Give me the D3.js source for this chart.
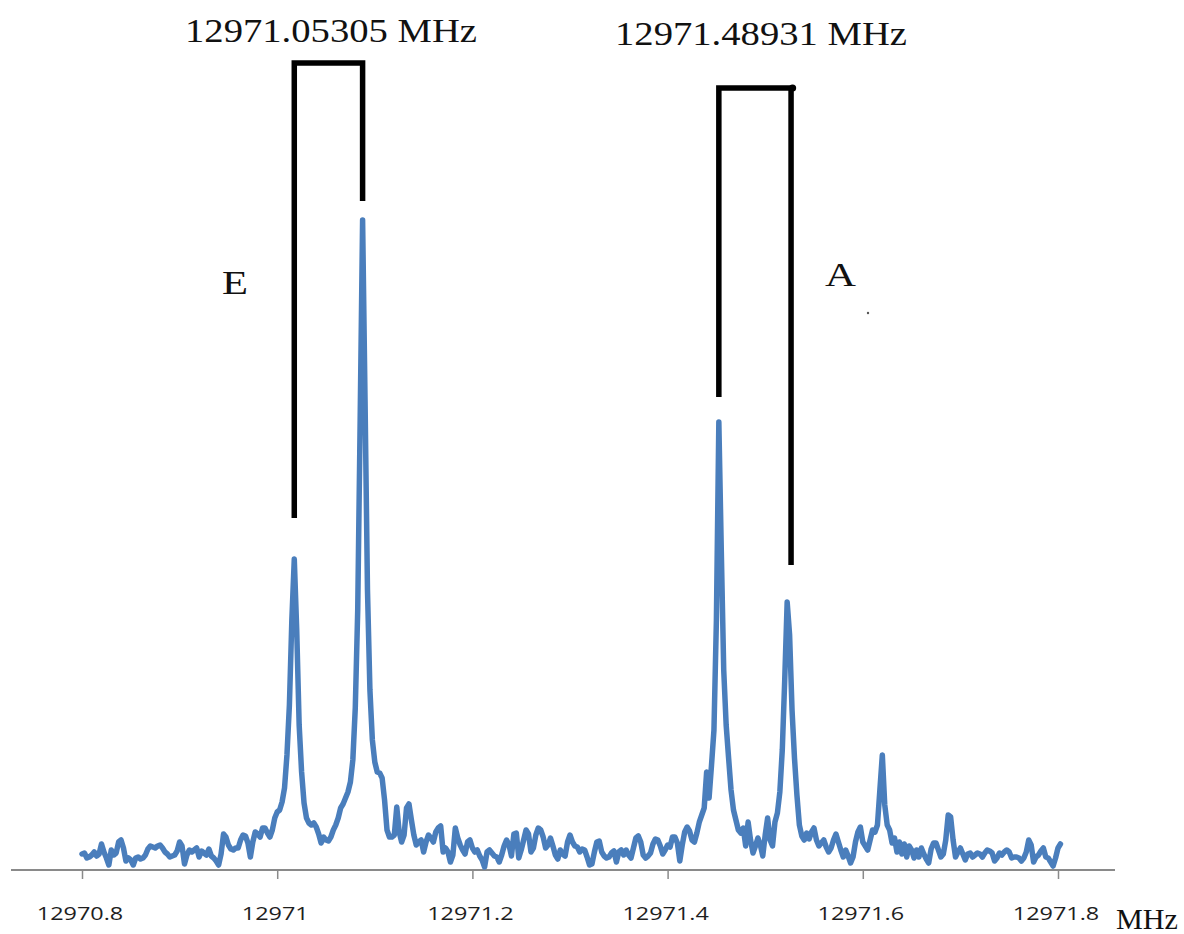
<!DOCTYPE html>
<html>
<head>
<meta charset="utf-8">
<script src="https://cdn.jsdelivr.net/npm/d3@7"></script>
<style>
  html, body { margin: 0; padding: 0; background: #ffffff; }
  svg { display: block; }
</style>
</head>
<body>
<svg id="chart" width="1184" height="934"></svg>
<script>
// ---------------- DATA ----------------
// Spectrum sampled every 0.0025 MHz starting at 12970.8 MHz (intensity, arbitrary units)
const freqStart = 12970.8;
const freqStep = 0.0025;
const intensity = [
  16,17,12,13,15,18,14,16,26,18,
  12,5,20,15,17,28,30,22,9,12,
  10,5,12,13,11,12,15,21,24,23,
  22,24,25,22,18,16,13,14,15,19,
  28,24,6,15,20,18,20,22,13,19,
  17,15,21,14,12,9,5,16,36,33,
  25,21,20,22,22,30,35,34,27,13,
  28,38,36,33,42,42,37,33,40,52,
  58,
  60,68,82,115,165,250,311,240,145,98,
  67,52,47,45,47,43,36,27,33,30,
  29,33,40,45,52,62,66,72,78,88,
  110,162,260,450,650,470,280,180,130,108,
  98,97,92,70,40,33,33,35,63,38,
  28,35,62,66,50,35,25,28,30,18,
  28,35,32,28,38,42,44,18,22,18,
  8,15,42,32,25,20,16,28,30,22,
  18,20,
  14,10,3,18,20,17,14,13,8,15,
  24,30,25,14,36,37,12,20,30,40,
  36,18,22,35,42,40,33,22,25,32,
  24,15,11,20,16,14,28,35,28,24,
  23,18,21,20,13,5,6,18,28,29,
  18,14,12,13,17,19,8,18,20,15,
  20,15,12,22,32,34,28,15,12,14,
  17,26,31,30,24,16,20,25,
  23,33,33,27,9,25,38,43,39,30,
  28,37,48,55,62,98,72,105,140,250,
  448,320,200,145,112,80,60,50,40,37,
  42,24,48,30,17,24,32,25,14,35,
  52,30,24,48,57,78,120,190,268,235,
  160,112,75,45,34,30,37,31,38,42,
  30,24,27,30,23,18,22,30,36,28,
  20,13,20,14,7,13,28,38,43,28,
  24,
  20,30,40,38,45,80,115,65,45,40,
  27,32,18,28,16,26,13,24,20,12,
  20,13,22,16,11,7,21,27,27,20,
  13,16,30,55,53,30,13,18,22,16,
  10,16,17,13,15,17,16,13,17,20,
  19,17,9,12,17,15,18,20,18,12,
  13,13,12,9,12,18,30,25,8,13,
  15,19,22,13,12,8,4,12,22,26
];

const tickValues = [12970.8, 12971.0, 12971.2, 12971.4, 12971.6, 12971.8];
const tickLabels = ["12970.8", "12971", "12971.2", "12971.4", "12971.6", "12971.8"];

// Doublet annotations (bracket legs at line frequencies, heights in intensity units)
const bracketNames = ["E", "A"];
const bracketTitles = ["12971.05305 MHz", "12971.48931 MHz"];
const bracketLeftFreq = [12971.0175, 12971.4525];
const bracketRightFreq = [12971.0875, 12971.5265];
const bracketTop = [807, 782];
const bracketLeftBottom = [352, 473];
const bracketRightBottom = [669, 305];

const xUnit = "MHz";

// ---------------- CHART ----------------
const svg = d3.select("#chart");
svg.append("rect").attr("width", 1184).attr("height", 934).attr("fill", "#ffffff");

const x = d3.scaleLinear().domain([12970.8, 12971.8]).range([82, 1058]);
const y = d3.scaleLinear().domain([0, 650]).range([870, 220]);

const points = intensity.map((v, i) => ({ f: freqStart + i * freqStep, v }));

// axis baseline (extends beyond the data range)
svg.append("line")
  .attr("x1", 11).attr("x2", 1115)
  .attr("y1", y(0)).attr("y2", y(0))
  .attr("stroke", "#8a8a8a").attr("stroke-width", 2);

const axis = d3.axisBottom(x)
  .tickValues(tickValues)
  .tickSize(9)
  .tickFormat((d, i) => tickLabels[i]);

const gAxis = svg.append("g")
  .attr("transform", `translate(0,${y(0)})`)
  .call(axis);
gAxis.select(".domain").remove();
gAxis.selectAll(".tick line").attr("stroke", "#8a8a8a").attr("stroke-width", 1.5);
gAxis.selectAll(".tick text")
  .attr("y", 50).attr("dy", 0).attr("x", -2.5)
  .attr("fill", "#1e1e1e")
  .style("font-family", "'Open Sans', 'DejaVu Sans', sans-serif")
  .style("font-size", "18px")
  .style("font-weight", 500)
  .each(function () {
    const w = this.getComputedTextLength();
    d3.select(this).attr("textLength", w * 1.3).attr("lengthAdjust", "spacingAndGlyphs");
  });

// spectrum line
const line = d3.line().x(d => x(d.f)).y(d => y(d.v));
svg.append("path")
  .datum(points)
  .attr("d", line)
  .attr("fill", "none")
  .attr("stroke", "#4a7ebc")
  .attr("stroke-width", 5.5)
  .attr("stroke-linejoin", "round")
  .attr("stroke-linecap", "round");

// brackets
bracketNames.forEach((name, k) => {
  const xl = x(bracketLeftFreq[k]), xr = x(bracketRightFreq[k]);
  const p = d3.path();
  p.moveTo(xl, y(bracketLeftBottom[k]));
  p.lineTo(xl, y(bracketTop[k]));
  p.lineTo(xr, y(bracketTop[k]));
  p.lineTo(xr, y(bracketRightBottom[k]));
  svg.append("path")
    .attr("d", p.toString())
    .attr("fill", "none")
    .attr("stroke", "#000")
    .attr("stroke-width", 5.5)
    .attr("stroke-linejoin", "miter")
    .attr("stroke-linecap", "butt");
});
// small dot at the A bracket corner
svg.append("circle")
  .attr("cx", x(bracketRightFreq[1]) + 1.5).attr("cy", y(bracketTop[1]))
  .attr("r", 3.6).attr("fill", "#000");

// texts
const serif = "'Liberation Serif', 'Times New Roman', serif";
const titleX = [331, 761], titleY = [42, 45];
bracketTitles.forEach((t, k) => {
  svg.append("text")
    .attr("x", titleX[k]).attr("y", titleY[k])
    .attr("text-anchor", "middle")
    .attr("textLength", 292).attr("lengthAdjust", "spacingAndGlyphs")
    .style("font-family", serif).style("font-size", "34px")
    .attr("fill", "#111")
    .text(t);
});

svg.append("text")
  .attr("x", 222).attr("y", 294)
  .attr("textLength", 26).attr("lengthAdjust", "spacingAndGlyphs")
  .style("font-family", serif).style("font-size", "34px").attr("fill", "#111")
  .text(bracketNames[0]);
svg.append("text")
  .attr("x", 825).attr("y", 286)
  .attr("textLength", 31).attr("lengthAdjust", "spacingAndGlyphs")
  .style("font-family", serif).style("font-size", "33px").attr("fill", "#111")
  .text(bracketNames[1]);

svg.append("circle").attr("cx", 868).attr("cy", 313).attr("r", 1.2).attr("fill", "#555");

svg.append("text")
  .attr("x", 1116).attr("y", 929)
  .attr("textLength", 62).attr("lengthAdjust", "spacingAndGlyphs")
  .style("font-family", serif).style("font-size", "30px").attr("fill", "#111")
  .text(xUnit);
</script>
</body>
</html>
